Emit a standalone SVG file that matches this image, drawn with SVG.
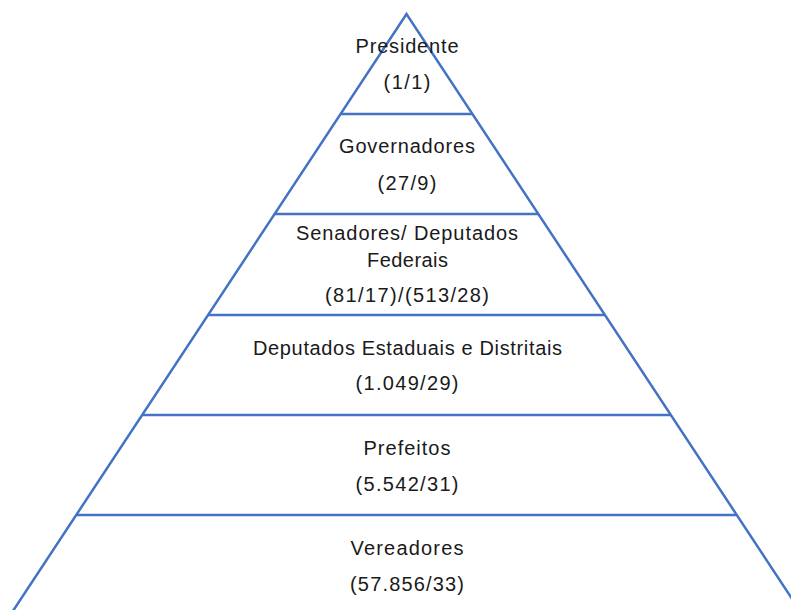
<svg xmlns="http://www.w3.org/2000/svg" width="791" height="610" viewBox="0 0 791 610">
<style>
.ln{stroke:#4472C4;stroke-width:2.5;fill:none;stroke-linecap:butt;stroke-linejoin:miter}
.t{font-family:"Liberation Sans",Arial,sans-serif;font-size:20px;fill:#1a1a1a;text-anchor:middle}
</style>
<rect width="791" height="610" fill="#ffffff"/>
<g id="connectors">
<polyline class="ln" points="7,620 406.5,14 806,620"/>
<line class="ln" x1="340.6" y1="114" x2="472.4" y2="114"/>
<line class="ln" x1="274.7" y1="214" x2="538.3" y2="214"/>
<line class="ln" x1="208.1" y1="315" x2="604.9" y2="315"/>
<line class="ln" x1="142.2" y1="415" x2="670.8" y2="415"/>
<line class="ln" x1="76.3" y1="515" x2="736.7" y2="515"/>
</g>
<g id="presidente">
<text class="t" x="407" y="53" textLength="103">Presidente</text>
<text class="t" x="407" y="89" textLength="47">(1/1)</text>
</g>
<g id="governadores">
<text class="t" x="407" y="153" textLength="136">Governadores</text>
<text class="t" x="407" y="190" textLength="59">(27/9)</text>
</g>
<g id="senadores">
<text class="t" x="407" y="240" textLength="222">Senadores/ Deputados</text>
<text class="t" x="407.5" y="267" textLength="81">Federais</text>
<text class="t" x="407" y="302" textLength="164">(81/17)/(513/28)</text>
</g>
<g id="deputados">
<text class="t" x="407.5" y="355" textLength="309">Deputados Estaduais e Distritais</text>
<text class="t" x="407" y="390" textLength="103">(1.049/29)</text>
</g>
<g id="prefeitos">
<text class="t" x="407" y="455" textLength="87">Prefeitos</text>
<text class="t" x="407" y="491" textLength="103">(5.542/31)</text>
</g>
<g id="vereadores">
<text class="t" x="407" y="555" textLength="113">Vereadores</text>
<text class="t" x="407" y="591" textLength="114">(57.856/33)</text>
</g>
</svg>
